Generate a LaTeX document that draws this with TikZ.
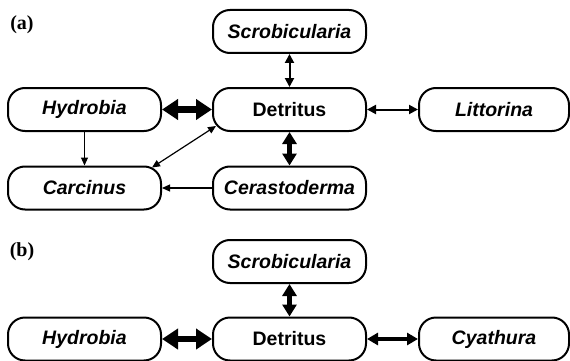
\documentclass[tikz,border=0pt]{standalone}
\usepackage{fontspec}
\newfontfamily\arialfont{Liberation Sans}
\newfontfamily\timesfont{Liberation Serif}
\usetikzlibrary{arrows.meta}

\begin{document}
\begin{tikzpicture}[x=1pt,y=-1pt,
    box/.style={draw, line width=2pt, rounded corners=17pt, minimum width=153pt, minimum height=43pt, inner sep=0pt,
                font=\arialfont\fontsize{19.5}{22}\selectfont\bfseries\itshape},
    pool/.style={box, font=\arialfont\fontsize{19.5}{22}\selectfont\bfseries},
    panel/.style={font=\timesfont\fontsize{20}{22}\selectfont\bfseries},
    oneway/.style={line width=1.2pt, -{Triangle[length=8pt,width=7pt]}},
    twoway/.style={line width=1.2pt, {Triangle[length=8pt,width=7pt]}-{Triangle[length=8pt,width=7pt]}},
    lightflux/.style={line width=2pt, {Triangle[length=9pt,width=9pt]}-{Triangle[length=9pt,width=9pt]}},
    midflux/.style={line width=3.5pt, {Triangle[length=11pt,width=12pt]}-{Triangle[length=11pt,width=12pt]}},
    heavyflux/.style={line width=4.5pt, {Triangle[length=12pt,width=14pt]}-{Triangle[length=12pt,width=14pt]}},
    bulkflux/.style={line width=6.5pt, {Triangle[length=16pt,width=20pt]}-{Triangle[length=16pt,width=20pt]}}]
\useasboundingbox (0,0) rectangle (570,361);

% (a)
\node[panel] (lbla) at (22,25) {(a)};
\node[box]  (scroba) at (289.5,31.5) {Scrobicularia};
\node[box]  (hyda)   at (84.5,109.5) {Hydrobia};
\node[pool] (deta)   at (289.5,109.5) {Detritus};
\node[box, minimum width=150pt] (litta) at (494,109.5) {Littorina};
\node[box]  (carca)  at (84.5,188) {Carcinus};
\node[box]  (cera)   at (289.5,188) {Cerastoderma};

\draw[lightflux] (scroba) -- (deta);
\draw[bulkflux] (hyda) -- (deta);
\draw[lightflux] (deta) -- (litta);
\draw[heavyflux] (deta) -- (cera);
\draw[oneway] (hyda) -- (carca);
\draw[oneway] (cera) -- (carca);
\draw[twoway] ([shift={(4,-6)}]deta.south west) -- ([shift={(-10,2)}]carca.north east);

% (b)
\node[panel] (lblb) at (22,252) {(b)};
\node[box]  (scrobb) at (289.5,261.5) {Scrobicularia};
\node[box]  (hydb)   at (84.5,339) {Hydrobia};
\node[pool] (detb)   at (289.5,339) {Detritus};
\node[box, minimum width=150pt] (cyatb) at (494,339) {Cyathura};

\draw[heavyflux] (scrobb) -- (detb);
\draw[bulkflux] (hydb) -- (detb);
\draw[midflux] (detb) -- (cyatb);
\end{tikzpicture}
\end{document}
